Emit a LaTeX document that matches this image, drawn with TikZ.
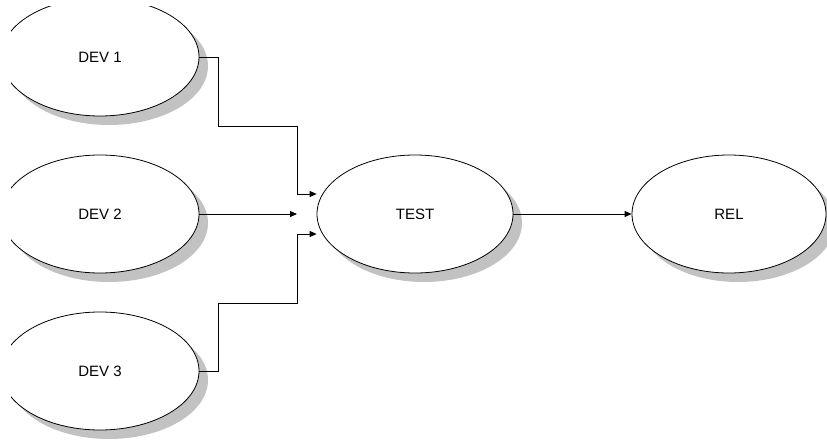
\documentclass[tikz,border=0pt]{standalone}
\usepackage{fontspec}
\setmainfont{Liberation Sans}
\usetikzlibrary{shapes.geometric,shadows,arrows.meta,calc}
\begin{document}
\begin{tikzpicture}[x=1pt,y=-1pt,
  proc/.style={ellipse,draw=black,line width=0.8pt,fill=white,inner sep=0pt,
    minimum width=196pt,minimum height=118pt,font=\fontsize{15}{17}\selectfont,
    drop shadow={shadow xshift=9pt,shadow yshift=-9pt,fill=black!24,opacity=1}},
  arr/.style={draw=black,line width=0.8pt,-{Triangle[length=7pt,width=6pt]}}]
\useasboundingbox (0,0) rectangle (827,442);
\clip (11,6) rectangle (827,442);
\node[proc,minimum width=198pt] (d1) at (100,57) {DEV 1};
\node[proc,minimum width=198pt] (d2) at (100,214) {DEV 2};
\node[proc,minimum width=198pt] (d3) at (100,371) {DEV 3};
\node[proc] (t) at (415,214) {TEST};
\node[proc,minimum width=194pt] (r) at (729,214) {REL};
\coordinate (c1) at (297,126);
\coordinate (c3) at (297,303);
\coordinate (m2) at (297,214);
\draw[arr] (d1.east) -- ++(19,0) |- (c1) |- ($(t.west)+(0,-20)$);
\draw[arr] (d2.east) -- (m2);
\draw[arr] (d3.east) -- ++(19,0) |- (c3) |- ($(t.west)+(0,20)$);
\draw[arr] (t.east) -- (r.west);
\end{tikzpicture}
\end{document}
